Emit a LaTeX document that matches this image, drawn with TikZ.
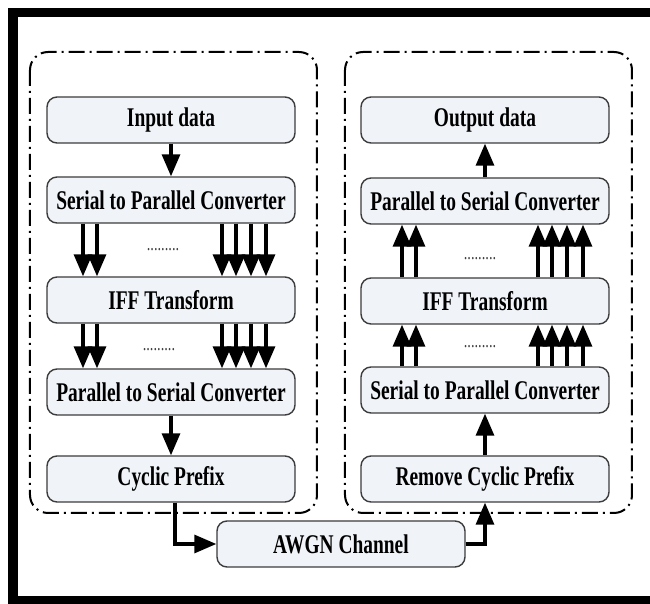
\documentclass[tikz,border=0pt]{standalone}
\usepackage{fontspec}
\setmainfont{Liberation Serif}[FakeStretch=0.72]
\usepackage{tikz}
\usetikzlibrary{arrows.meta,positioning,calc}
\definecolor{blkfill}{RGB}{240,243,248}
\definecolor{blkline}{RGB}{60,60,60}

\begin{document}
\begin{tikzpicture}[x=0.5pt, y=-0.5pt,
  blk/.style={rectangle, rounded corners=5pt, draw=blkline, line width=0.7pt, fill=blkfill,
    minimum width=124pt, minimum height=23pt, inner sep=0pt,
    font=\fontsize{13.5}{15}\selectfont\bfseries},
  arr/.style={line width=1.6pt, -{Triangle[length=11pt,width=9pt]}},
  grp/.style={line width=1pt, rounded corners=9pt,
    dash pattern=on 8pt off 2.5pt on 1pt off 2.5pt},
  dots/.style={font=\fontsize{10}{10}\selectfont, text=black!75, inner sep=0pt}]
\useasboundingbox (0,0) rectangle (650,604);
% frame
\draw[line width=4.5pt] (660,12.5) -- (13,12.5) -- (13,601) -- (660,601);
% groups
\draw[grp] (30,52) rectangle (317,513);
\draw[grp] (345,52) rectangle (632,513);

% transmitter
\node[blk] (in)   at (171,120) {Input data};
\node[blk] (sp1)  at (171,200) {Serial to Parallel Converter};
\node[blk] (iff1) at (171,300) {IFF Transform};
\node[blk] (ps1)  at (171,392) {Parallel to Serial Converter};
\node[blk] (cp)   at (171,479) {Cyclic Prefix};

% receiver
\node[blk] (out)  at (485,120) {Output data};
\node[blk] (ps2)  at (485,201) {Parallel to Serial Converter};
\node[blk] (iff2) at (485,301) {IFF Transform};
\node[blk] (sp2)  at (485,390) {Serial to Parallel Converter};
\node[blk] (rcp)  at (485,479) {Remove Cyclic Prefix};

\node[blk] (awgn) at (341,544) {AWGN Channel};

\node[dots] (d1) at (163,250) {.........};
\node[dots] (d2) at (159,350) {.........};
\node[dots] (d3) at (480,259) {.........};
\node[dots] (d4) at (480,347) {.........};

\draw[arr] (in) -- (sp1);
\foreach \x in {83,97,222,236,251,266}{
  \draw[arr] (\x,0 |- sp1.south) -- (\x,0 |- iff1.north);
  \draw[arr] (\x,0 |- iff1.south) -- (\x,0 |- ps1.north);
}
\draw[arr] (ps1) -- (cp);
\draw[arr] ([xshift=2pt]cp.south) |- (awgn.west);
\draw[arr] (awgn.east) -| (rcp.south);
\draw[arr] (rcp) -- (sp2);
\foreach \x in {402,416,538,552,567,583}{
  \draw[arr] (\x,0 |- sp2.north) -- (\x,0 |- iff2.south);
  \draw[arr] (\x,0 |- iff2.north) -- (\x,0 |- ps2.south);
}
\draw[arr] (ps2) -- (out);
\end{tikzpicture}
\end{document}
